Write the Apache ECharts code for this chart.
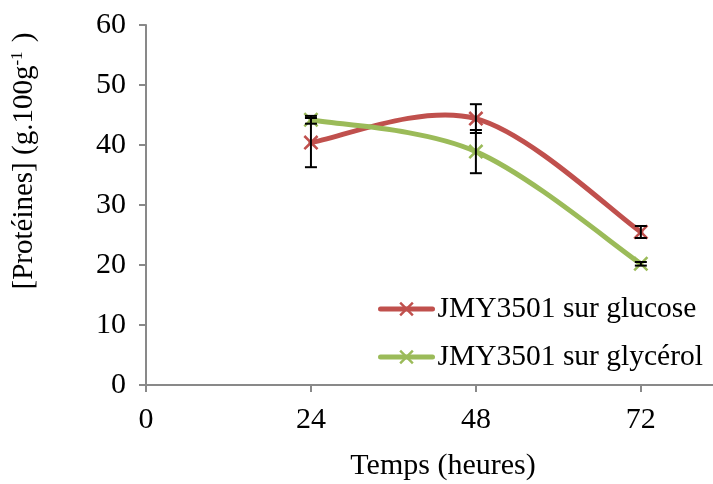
<!DOCTYPE html>
<html><head><meta charset="utf-8">
<script src="https://cdn.jsdelivr.net/npm/echarts@6/dist/echarts.min.js"></script>
<style>html,body{margin:0;padding:0;background:#fff}#c{width:713px;height:484px}</style>
</head><body><div id="c"></div>
<script>
const xValues = [24, 48, 72];
const glucose = [40.4, 44.4, 25.5];
const glucoseErr = [4.1, 2.4, 1.0];
const glycerol = [44.2, 38.9, 20.2];
const glycerolErr = [0.65, 3.6, 0.3];
const xTicks = [0, 24, 48, 72];
const seriesNames = ['JMY3501 sur glucose', 'JMY3501 sur glycérol'];
const colors = ['#C0504D', '#9BBB59'];

const FONT = '"Liberation Serif", "Times New Roman", serif';
const X_SYMBOL = 'path://M0,1.2L1.2,0L5,3.8L8.8,0L10,1.2L6.2,5L10,8.8L8.8,10L5,6.2L1.2,10L0,8.8L3.8,5Z';

function pairs(xs, ys) { return xs.map((x, i) => [x, ys[i]]); }
function errData(xs, ys, es) { return xs.map((x, i) => [x, ys[i] - es[i], ys[i] + es[i]]); }

function errRender(params, api) {
  const x = api.value(0), lo = api.value(1), hi = api.value(2);
  const pLo = api.coord([x, lo]), pHi = api.coord([x, hi]);
  const w = 6;
  const st = { stroke: '#000', lineWidth: 2 };
  return { type: 'group', children: [
    { type: 'line', shape: { x1: pLo[0], y1: pLo[1], x2: pHi[0], y2: pHi[1] }, style: st },
    { type: 'line', shape: { x1: pLo[0] - w, y1: pLo[1], x2: pLo[0] + w, y2: pLo[1] }, style: st },
    { type: 'line', shape: { x1: pHi[0] - w, y1: pHi[1], x2: pHi[0] + w, y2: pHi[1] }, style: st }
  ]};
}

// Excel-like smoothed curve (Catmull-Rom Bezier), each item draws segment i -> i+1
function curveRenderer(ys, color) {
  return function (params, api) {
    const i = params.dataIndex;
    if (i >= xValues.length - 1) return null;
    const P = k => api.coord([xValues[Math.max(0, Math.min(xValues.length - 1, k))], ys[Math.max(0, Math.min(ys.length - 1, k))]]);
    const p0 = P(i - 1), p1 = P(i), p2 = P(i + 1), p3 = P(i + 2);
    const c1 = [p1[0] + (p2[0] - p0[0]) / 6, p1[1] + (p2[1] - p0[1]) / 6];
    const c2 = [p2[0] - (p3[0] - p1[0]) / 6, p2[1] - (p3[1] - p1[1]) / 6];
    return { type: 'bezierCurve',
      shape: { x1: p1[0], y1: p1[1], cpx1: c1[0], cpy1: c1[1], cpx2: c2[0], cpy2: c2[1], x2: p2[0], y2: p2[1] },
      style: { stroke: color, lineWidth: 5, fill: null, lineCap: 'round' } };
  };
}

function markerSeries(name, ys, color) {
  return {
    name: name, type: 'line', data: pairs(xValues, ys),
    symbol: X_SYMBOL, symbolSize: 15,
    lineStyle: { color: color, width: 5, opacity: 0 },
    itemStyle: { color: color },
    z: 3
  };
}
function curveSeries(ys, color) {
  return { type: 'custom', renderItem: curveRenderer(ys, color), data: pairs(xValues, ys), z: 2, silent: true };
}

const chart = echarts.init(document.getElementById('c'));
chart.setOption({
  animation: false,
  textStyle: { fontFamily: FONT },
  grid: { left: 146, right: 0, top: 25, bottom: 99, containLabel: false },
  xAxis: {
    type: 'value', min: 0, max: 82.5, interval: 24,
    axisLine: { lineStyle: { color: '#898989', width: 2 } },
    axisTick: { show: true, length: 7, lineStyle: { color: '#898989', width: 2 } },
    splitLine: { show: false },
    axisLabel: { fontFamily: FONT, fontSize: 30, color: '#000', margin: 20,
      showMaxLabel: false,
      formatter: v => (xTicks.indexOf(v) >= 0 ? String(v) : '') }
  },
  yAxis: {
    type: 'value', min: 0, max: 60, interval: 10,
    axisLine: { show: true, lineStyle: { color: '#898989', width: 2 } },
    axisTick: { show: true, length: 7, lineStyle: { color: '#898989', width: 2 } },
    splitLine: { show: false },
    axisLabel: { fontFamily: FONT, fontSize: 30, color: '#000', margin: 20 }
  },
  legend: {
    orient: 'vertical', left: 373, top: 289,
    itemWidth: 52, itemHeight: 18, itemGap: 18,
    data: seriesNames,
    lineStyle: { width: 5, opacity: 1, cap: 'round' },
    textStyle: { fontFamily: FONT, fontSize: 29.5, color: '#000', lineHeight: 30 }
  },
  graphic: [
    { type: 'text', x: 24, y: 161, rotation: Math.PI / 2,
      style: { text: '[Protéines] (g.100g{sup|-1} )', font: '29px ' + FONT, fill: '#000',
        align: 'center', verticalAlign: 'middle',
        rich: { sup: { fontSize: 17, fontFamily: FONT, verticalAlign: 'top', lineHeight: 29, padding: [0, 2, 16, 0] } } } },
    { type: 'text', x: 443, y: 466,
      style: { text: 'Temps (heures)', font: '30px ' + FONT, fill: '#000', align: 'center', verticalAlign: 'middle' } }
  ],
  series: [
    markerSeries(seriesNames[0], glucose, colors[0]),
    markerSeries(seriesNames[1], glycerol, colors[1]),
    curveSeries(glucose, colors[0]),
    curveSeries(glycerol, colors[1]),
    { type: 'custom', renderItem: errRender, data: errData(xValues, glucose, glucoseErr), z: 4, silent: true },
    { type: 'custom', renderItem: errRender, data: errData(xValues, glycerol, glycerolErr), z: 4, silent: true }
  ]
});
</script></body></html>
